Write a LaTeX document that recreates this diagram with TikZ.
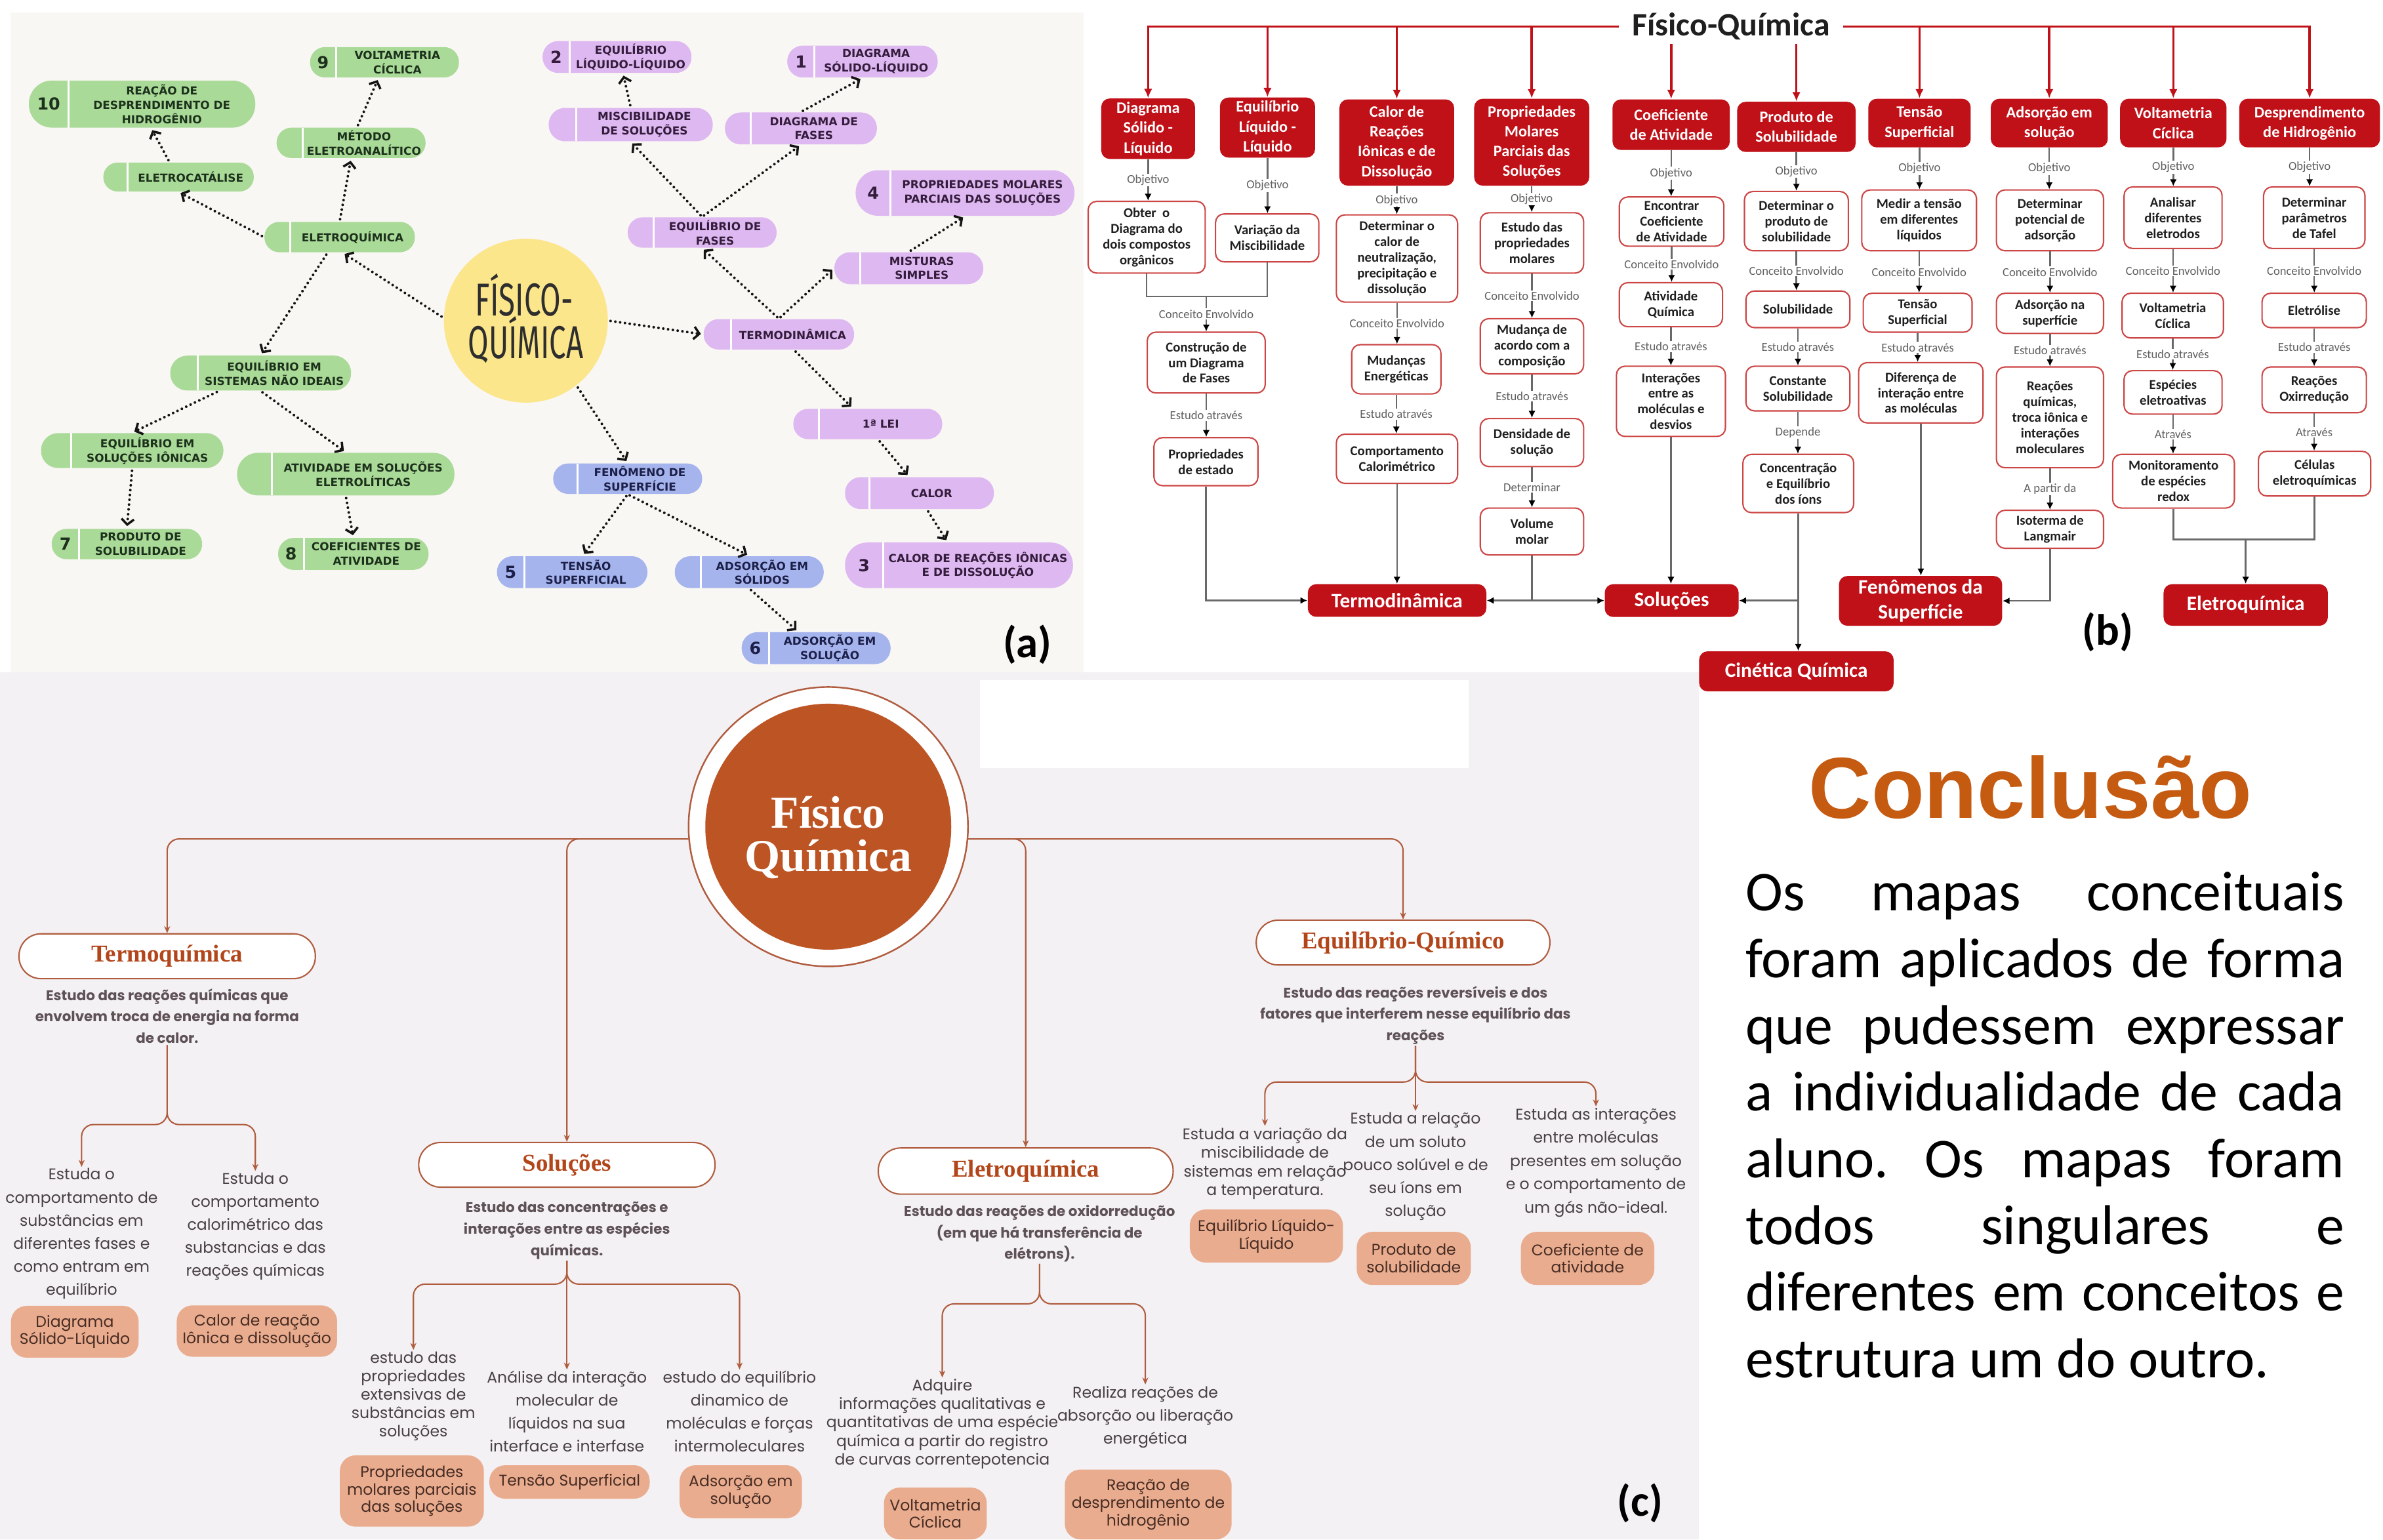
\documentclass[tikz,border=0pt]{standalone}
\usepackage{graphicx}
\usepackage{fontspec}
\setmainfont{Carlito}
\newfontfamily\capsfont{DejaVu Sans}
\newfontfamily\roundfont{Fira Sans}
\newfontfamily\popfont{Poppins}
\newfontfamily\arialfont{Liberation Sans}
\newfontfamily\decofont{Liberation Serif}
\usetikzlibrary{arrows.meta,calc,fit}
\frenchspacing

% colours
\definecolor{bgA}{RGB}{249,247,244}
\definecolor{bgC}{RGB}{243,241,244}
\definecolor{pgreen}{RGB}{170,218,152}
\definecolor{pgreentxt}{RGB}{28,48,28}
\definecolor{ppurple}{RGB}{222,184,240}
\definecolor{ppurpletxt}{RGB}{52,28,60}
\definecolor{pblue}{RGB}{166,180,238}
\definecolor{pbluetxt}{RGB}{28,32,72}
\definecolor{pyellow}{RGB}{252,230,140}
\definecolor{bred}{RGB}{192,16,24}
\definecolor{bborder}{RGB}{205,70,70}
\definecolor{bgray}{RGB}{105,105,105}
\definecolor{cbrown}{RGB}{188,84,36}
\definecolor{clinec}{RGB}{176,92,62}
\definecolor{cdark}{RGB}{178,70,26}
\definecolor{csalmon}{RGB}{234,172,142}
\definecolor{cbadgetxt}{RGB}{70,44,36}
\definecolor{ctext}{RGB}{72,64,66}
\definecolor{cdesc}{RGB}{95,82,86}
\definecolor{ctitle}{RGB}{197,90,17}

% pill of the first map: name, colour, x1, y1, x2, y2, divider x, number, text
\newcommand\pill[9]{%
  \pgfmathsetmacro\pillr{abs(#6-#4)*0.1135}%
  \fill[#2,rounded corners=\pillr mm] (#3,#4) rectangle (#5,#6);
  \draw[white,line width=0.85pt] (#7,#4) -- (#7,#6);
  \node[fit={(#3,#4) (#5,#6)},inner sep=0pt] (#1) {};
  \node[pilltext,text=#2txt] (#1t) at ({(#7+#5)/2},{(#4+#6)/2}) {#9};
  \node[pillnum,text=#2txt] (#1n) at ({(#3+#7)/2},{(#4+#6)/2}) {#8};
}
% boxes of the flow chart
\newcommand\wbox[6]{%
  \node[wboxs,fit={(#2,#3) (#4,#5)}] (#1) {};
  \node[wtext] (#1t) at (#1.center) {#6};
}
\newcommand\rbox[7]{%
  \node[rboxs,fit={(#2,#3) (#4,#5)}] (#1) {};
  \node[#6] (#1t) at (#1.center) {#7};
}
\newcommand\vlink[3]{\draw[barr] (#1.south) -- node[blabel]{#3} (#1.south |- #2.north);}
\newcommand\vlinkn[2]{\draw[barr] (#1.south) -- (#1.south |- #2.north);}
% third map
\newcommand\cpill[6]{%
  \pgfmathsetmacro\pillr{abs(#5-#3)*0.1135}%
  \node[draw=clinec,line width=0.6pt,fill=white,rounded corners=\pillr mm,fit={(#2,#3) (#4,#5)},inner sep=0pt] (#1) {};
  \node[ctitlef] (#1t) at (#1.center) {#6};
}
\newcommand\badge[6]{%
  \node[fill=csalmon,rounded corners=2.4mm,fit={(#2,#3) (#4,#5)},inner sep=0pt] (#1) {};
  \node[badgetext] (#1t) at (#1.center) {#6};
}

\begin{document}
\begin{tikzpicture}[x=0.2317mm,y=-0.2317mm,
  darr/.style={draw=black!92,line width=1.15pt,dash pattern=on 0pt off 2.1pt,line cap=round,
    shorten <=1pt,shorten >=1pt,-{Straight Barb[length=2.4pt,width=5.4pt,line width=1pt]}},
  pilltext/.style={font=\capsfont\bfseries\fontsize{4.8}{6.2}\selectfont,align=center,inner sep=0pt},
  pillnum/.style={font=\capsfont\bfseries\fontsize{7.2}{8}\selectfont,inner sep=0pt},
  wboxs/.style={draw=bborder,line width=0.6pt,fill=white,rounded corners=1.3mm,inner sep=0pt},
  wtext/.style={font=\bfseries\fontsize{5.9}{6.8}\selectfont,align=center,inner sep=0pt,text=black!88},
  rboxs/.style={fill=bred,rounded corners=1.3mm,inner sep=0pt},
  rtop/.style={font=\bfseries\fontsize{6.9}{8.6}\selectfont,align=center,inner sep=0pt,text=white},
  rbot/.style={font=\bfseries\fontsize{8.9}{11}\selectfont,align=center,inner sep=0pt,text=white},
  redarr/.style={draw=bred,line width=1pt,-{Latex[length=4pt,width=3.6pt]}},
  bline/.style={draw=bgray,line width=0.7pt},
  barr/.style={bline,-{Latex[length=3pt,width=3pt,color=black]}},
  blabel/.style={font=\fontsize{5.3}{6}\selectfont,text=black!62,fill=white,inner sep=0.5pt},
  plabel/.style={font=\bfseries\fontsize{19}{20}\selectfont,inner sep=0pt},
  cline/.style={draw=clinec,line width=0.6pt},
  carr/.style={cline,rounded corners=1.8mm,-{Stealth[length=3pt,width=2.6pt]}},
  cdescs/.style={font=\popfont\bfseries\fontsize{6.1}{9.3}\selectfont,text=cdesc,align=center,inner sep=0.5pt},
  cbr/.style={font=\popfont\fontsize{6.7}{#1}\selectfont,text=ctext,align=center,inner sep=0.5pt},
  badgetext/.style={font=\popfont\fontsize{6.7}{7.6}\selectfont,text=cbadgetxt,align=center,inner sep=0pt},
  ctitlef/.style={font=\decofont\bfseries\fontsize{10.5}{12}\selectfont,text=cdark,inner sep=0pt},
  cline8/.style={font=\fontsize{24.4}{28.9}\selectfont,anchor=base west,inner sep=0pt}
]
\useasboundingbox (0,0) rectangle (1568,1013);
\fill[white] (0,0) rectangle (1568,1013);

% panel backgrounds
\fill[bgA] (7,8) rectangle (712.9,442.4);
\fill[bgC] (0,442.4) rectangle (1117.9,1013);
\fill[white] (644.7,447.7) rectangle (966.5,505.6);

% ================= (a) mind map =================
\node[circle,fill=pyellow,minimum size=25mm,inner sep=0pt] (circa) at (346,211) {};
\node[anchor=base,font=\roundfont\fontsize{20}{20}\selectfont,text=black!82,inner sep=0pt] (ca1) at (345,208) {\scalebox{0.65}[1]{FÍSICO-}};
\node[anchor=base,font=\roundfont\fontsize{20}{20}\selectfont,text=black!82,inner sep=0pt] (ca2) at (346,236) {\scalebox{0.65}[1]{QUÍMICA}};

\pill{g10}{pgreen}{19}{53}{168}{84}{45}{10}{REAÇÃO DE\\DESPRENDIMENTO DE\\HIDROGÊNIO}
\pill{g9}{pgreen}{204}{31}{302}{51}{221}{9}{VOLTAMETRIA\\CÍCLICA}
\pill{gmet}{pgreen}{182}{84}{280}{104}{199}{}{MÉTODO\\ELETROANALÍTICO}
\pill{gcat}{pgreen}{68}{107}{167}{126}{84}{}{ELETROCATÁLISE}
\pill{geq}{pgreen}{174}{146}{273}{166}{191}{}{ELETROQUÍMICA}
\pill{gnid}{pgreen}{112}{234}{231}{257}{130}{}{EQUILÍBRIO EM\\SISTEMAS NÃO IDEAIS}
\pill{gion}{pgreen}{27}{285}{147}{308}{47}{}{EQUILÍBRIO EM\\SOLUÇÕES IÔNICAS}
\pill{gativ}{pgreen}{156}{298}{299}{326}{179}{}{ATIVIDADE EM SOLUÇÕES\\ELETROLÍTICAS}
\pill{g7}{pgreen}{34}{348}{133}{368}{52}{7}{PRODUTO DE\\SOLUBILIDADE}
\pill{g8}{pgreen}{183}{354}{282}{375}{200}{8}{COEFICIENTES DE\\ATIVIDADE}

\pill{p2}{ppurple}{357}{27}{455}{48}{375}{2}{EQUILÍBRIO\\LÍQUIDO-LÍQUIDO}
\pill{p1}{ppurple}{518}{30}{617}{51}{536}{1}{DIAGRAMA\\SÓLIDO-LÍQUIDO}
\pill{pmis}{ppurple}{361}{71}{469}{93}{379}{}{MISCIBILIDADE\\DE SOLUÇÕES}
\pill{pdf}{ppurple}{477}{74}{577}{95}{494}{}{DIAGRAMA DE\\FASES}
\pill{p4}{ppurple}{563}{112}{707}{142}{586}{4}{PROPRIEDADES MOLARES\\PARCIAIS DAS SOLUÇÕES}
\pill{peqf}{ppurple}{413}{143}{511}{163}{430}{}{EQUILÍBRIO DE\\FASES}
\pill{pmist}{ppurple}{549}{166}{647}{187}{566}{}{MISTURAS\\SIMPLES}
\pill{pterm}{ppurple}{463}{210}{562}{230}{481}{}{TERMODINÂMICA}
\pill{plei}{ppurple}{522}{269}{620}{289}{539}{}{1ª LEI}
\pill{pcal}{ppurple}{556}{314}{654}{335}{572}{}{CALOR}
\pill{p3}{ppurple}{556}{357}{706}{387}{581}{3}{CALOR DE REAÇÕES IÔNICAS\\E DE DISSOLUÇÃO}

\pill{bfen}{pblue}{364}{305}{462}{325}{380}{}{FENÔMENO DE\\SUPERFÍCIE}
\pill{b5}{pblue}{327}{366}{426}{387}{345}{5}{TENSÃO\\SUPERFICIAL}
\pill{bads}{pblue}{444}{366}{542}{387}{461}{}{ADSORÇÃO EM\\SÓLIDOS}
\pill{b6}{pblue}{488}{416}{586}{437}{506}{6}{ADSORÇÃO EM\\SOLUÇÃO}

\draw[darr] (circa.178) -- ($(geq.south west)!0.52!(geq.south east)$);
\draw[darr] (geq.west) -- (gcat.south);
\draw[darr] (geq.north) -- (gmet.south);
\draw[darr] ($(gmet.north west)!0.54!(gmet.north east)$) -- ($(g9.south west)!0.46!(g9.south east)$);
\draw[darr] ($(gcat.north west)!0.44!(gcat.north east)$) -- ($(g10.south west)!0.54!(g10.south east)$);
\draw[darr] ($(geq.south west)!0.42!(geq.south east)$) -- (gnid.north);
\draw[darr] ($(gnid.south west)!0.27!(gnid.south east)$) -- (gion.north);
\draw[darr] (gnid.south) -- (gativ.north);
\draw[darr] (gion.south) -- (g7.north);
\draw[darr] (gativ.south) -- (g8.north);

\draw[darr] (circa.east) -- (pterm.west);
\draw[darr] (pterm.north) -- (peqf.south);
\draw[darr] (pterm.north) -- (pmist.west);
\draw[darr] (peqf.north) -- (pmis.south);
\draw[darr] (peqf.north) -- (pdf.south);
\draw[darr] (pmis.north) -- ($(p2.south west)!0.54!(p2.south east)$);
\draw[darr] (pdf.north) -- (p1.south);
\draw[darr] (pmist.north) -- (p4.south);
\draw[darr] ($(pterm.south west)!0.6!(pterm.south east)$) -- ($(plei.north west)!0.4!(plei.north east)$);
\draw[darr] ($(plei.south west)!0.57!(plei.south east)$) -- ($(pcal.north west)!0.43!(pcal.north east)$);
\draw[darr] ($(pcal.south west)!0.55!(pcal.south east)$) -- ($(p3.north west)!0.45!(p3.north east)$);
\draw[darr] (circa.-52) -- (bfen.north);
\draw[darr] (bfen.south) -- ($(b5.north west)!0.57!(b5.north east)$);
\draw[darr] (bfen.south) -- (bads.north);
\draw[darr] (bads.south) -- ($(b6.north west)!0.38!(b6.north east)$);

\node[plabel] (labA) at (676,424) {(a)};

% ================= (b) flow chart =================
\node[font=\bfseries\fontsize{14.2}{16}\selectfont,inner xsep=2mm,inner ysep=0.5mm,text=black!88] (ttl) at (1139,17.5) {Físico-Química};

\rbox{rt1}{724.6}{64.8}{786.3}{104.6}{rtop}{Diagrama\\Sólido -\\Líquido}
\rbox{rt2}{802.7}{64.2}{865.3}{103.7}{rtop}{Equilíbrio\\Líquido -\\Líquido}
\rbox{rt3}{881.3}{65.4}{956.8}{122.2}{rtop}{Calor de\\Reações\\Iônicas e de\\Dissolução}
\rbox{rt4}{970}{65}{1045.7}{122.2}{rtop}{Propriedades\\Molares\\Parciais das\\Soluções}
\rbox{rt5}{1061}{65.4}{1138.2}{98.7}{rtop}{Coeficiente\\de Atividade}
\rbox{rt6}{1143}{67}{1221}{100}{rtop}{Produto de\\Solubilidade}
\rbox{rt7}{1229.3}{65}{1296.7}{97}{rtop}{Tensão\\Superficial}
\rbox{rt8}{1309.9}{65}{1386.9}{97}{rtop}{Adsorção em\\solução}
\rbox{rt9}{1395}{65}{1465}{97}{rtop}{Voltametria\\Cíclica}
\rbox{rt10}{1473.4}{65}{1566}{97}{rtop}{Desprendimento\\de Hidrogênio}

\foreach \n in {rt1,rt2,rt3,rt4} \draw[redarr] (ttl.west) -| (\n.north);
\foreach \n in {rt7,rt8,rt9,rt10} \draw[redarr] (ttl.east) -| (\n.north);
\foreach \n in {rt5,rt6} \draw[redarr] (\n.north |- ttl.south) -- (\n.north);

\wbox{w1a}{716}{132.5}{793}{179.7}{Obter~ o\\Diagrama do\\dois compostos\\orgânicos}
\wbox{w2a}{799.8}{140.8}{867.8}{172.3}{Variação da\\Miscibilidade}
\wbox{w12b}{754.9}{218.6}{832.5}{258.6}{Construção de\\um Diagrama\\de Fases}
\wbox{w12c}{759.3}{288}{827.7}{319.6}{Propriedades\\de estado}
\wbox{w3a}{879.3}{141.4}{959.1}{198.8}{Determinar o\\calor de\\neutralização,\\precipitação e\\dissolução}
\wbox{w3b}{889.4}{226.8}{948.1}{259.2}{Mudanças\\Energéticas}
\wbox{w3c}{879.3}{285.7}{959.1}{318.1}{Comportamento\\Calorimétrico}
\wbox{w4a}{974}{140}{1042}{179.7}{Estudo das\\propriedades\\molares}
\wbox{w4b}{974}{209.7}{1042}{246}{Mudança de\\acordo com a\\composição}
\wbox{w4c}{974}{275.4}{1042}{307}{Densidade de\\solução}
\wbox{w4d}{974}{334.3}{1042}{365.2}{Volume\\molar}
\wbox{w5a}{1065.5}{129.6}{1134.3}{162}{Encontrar\\Coeficiente\\de Atividade}
\wbox{w5b}{1065.5}{186}{1133.4}{215}{Atividade\\Química}
\wbox{w5c}{1063.6}{241}{1135.3}{287.2}{Interações\\entre as\\moléculas e\\desvios}
\wbox{w6a}{1147.8}{126}{1216.2}{165}{Determinar o\\produto de\\solubilidade}
\wbox{w6b}{1148.8}{191.5}{1217.2}{215.6}{Solubilidade}
\wbox{w6c}{1148.8}{241}{1217.2}{270.4}{Constante\\Solubilidade}
\wbox{w6d}{1146.8}{299}{1219.7}{337.3}{Concentração\\e Equilíbrio\\dos íons}
\wbox{w7a}{1225}{125}{1300.5}{165}{Medir a tensão\\em diferentes\\líquidos}
\wbox{w7b}{1226}{193}{1297.6}{218.6}{Tensão\\Superficial}
\wbox{w7c}{1223}{238.6}{1304.8}{278.3}{Diferença de\\interação entre\\as moléculas}
\wbox{w8a}{1313.6}{125}{1384.1}{165}{Determinar\\potencial de\\adsorção}
\wbox{w8b}{1313.6}{193}{1384.1}{219.4}{Adsorção na\\superfície}
\wbox{w8c}{1313.6}{241.5}{1384.1}{307.8}{Reações\\químicas,\\troca iônica e\\interações\\moleculares}
\wbox{w8d}{1313.6}{335.8}{1384.1}{360.8}{Isoterma de\\Langmair}
\wbox{w9a}{1397.6}{123}{1462.1}{163.5}{Analisar\\diferentes\\eletrodos}
\wbox{w9b}{1396.3}{193}{1463}{222.4}{Voltametria\\Cíclica}
\wbox{w9c}{1397.6}{243.9}{1462.1}{272.5}{Espécies\\eletroativas}
\wbox{w9d}{1390.1}{299}{1470.2}{334.3}{Monitoramento\\de espécies\\redox}
\wbox{w10a}{1489.4}{123}{1556.1}{163.5}{Determinar\\parâmetros\\de Tafel}
\wbox{w10b}{1488.4}{193}{1557}{215.6}{Eletrólise}
\wbox{w10c}{1488.4}{241.5}{1557}{271.6}{Reações\\Oxirredução}
\wbox{w10d}{1486}{297}{1559.9}{326.4}{Células\\eletroquímicas}

\rbox{rterm}{860.5}{384.4}{978}{405.9}{rbot}{Termodinâmica}
\rbox{rsol}{1055.9}{384.4}{1144}{406}{rbot}{Soluções}
\rbox{rfen}{1210}{379}{1317.4}{411.8}{rbot}{Fenômenos da\\Superfície}
\rbox{rele}{1423.6}{384.4}{1531.7}{411.8}{rbot}{Eletroquímica}
\rbox{rcin}{1118}{428.6}{1246}{455}{rbot}{Cinética Química}

% column 1 and 2
\vlink{rt1}{w1a}{Objetivo}
\vlink{rt2}{w2a}{Objetivo}
\coordinate (j1) at (793.7,195);
\draw[bline] (w1a.south) |- (j1) -| (w2a.south);
\draw[barr] (j1) -- node[blabel]{Conceito Envolvido} (j1 |- w12b.north);
\vlink{w12b}{w12c}{Estudo através}
\draw[barr] (w12c.south) |- (rterm.west);
% column 3
\vlink{rt3}{w3a}{Objetivo}
\vlink{w3a}{w3b}{Conceito Envolvido}
\vlink{w3b}{w3c}{Estudo através}
\vlinkn{w3c}{rterm}
% column 4
\vlink{rt4}{w4a}{Objetivo}
\vlink{w4a}{w4b}{Conceito Envolvido}
\vlink{w4b}{w4c}{Estudo através}
\vlink{w4c}{w4d}{Determinar}
\draw[barr] (w4d.south) |- (rterm.east);
\draw[barr] (w4d.south) |- (rsol.west);
% column 5
\vlink{rt5}{w5a}{Objetivo}
\vlink{w5a}{w5b}{Conceito Envolvido}
\vlink{w5b}{w5c}{Estudo através}
\vlinkn{w5c}{rsol}
% column 6
\vlink{rt6}{w6a}{Objetivo}
\vlink{w6a}{w6b}{Conceito Envolvido}
\vlink{w6b}{w6c}{Estudo através}
\vlink{w6c}{w6d}{Depende}
\vlinkn{w6d}{rcin}
\draw[barr] (w6d.south) |- (rsol.east);
% column 7
\vlink{rt7}{w7a}{Objetivo}
\vlink{w7a}{w7b}{Conceito Envolvido}
\vlink{w7b}{w7c}{Estudo através}
\vlinkn{w7c}{rfen}
% column 8
\vlink{rt8}{w8a}{Objetivo}
\vlink{w8a}{w8b}{Conceito Envolvido}
\vlink{w8b}{w8c}{Estudo através}
\vlink{w8c}{w8d}{A partir da}
\draw[barr] (w8d.south) |- (rfen.east);
% column 9 and 10
\vlink{rt9}{w9a}{Objetivo}
\vlink{w9a}{w9b}{Conceito Envolvido}
\vlink{w9b}{w9c}{Estudo através}
\vlink{w9c}{w9d}{Através}
\vlink{rt10}{w10a}{Objetivo}
\vlink{w10a}{w10b}{Conceito Envolvido}
\vlink{w10b}{w10c}{Estudo através}
\vlink{w10c}{w10d}{Através}
\coordinate (j2) at (1477.6,355);
\draw[bline] (w9d.south) |- (j2) -| (w10d.south);
\draw[barr] (j2) -- (j2 |- rele.north);

\node[plabel] (labB) at (1387,416) {(b)};

% ================= (c) concept map =================
\node[circle,draw=clinec,line width=0.7pt,fill=white,minimum size=42.6mm,inner sep=0pt] (ccirc) at (545,544) {};
\node[circle,fill=cbrown,minimum size=37.5mm,inner sep=0pt] (ccore) at (ccirc.center) {};
\node[anchor=base,font=\decofont\bfseries\fontsize{19.8}{20}\selectfont,text=white,inner sep=0pt] (cc1) at (545,544.7) {Físico};
\node[anchor=base,font=\decofont\bfseries\fontsize{19.8}{20}\selectfont,text=white,inner sep=0pt] (cc2) at (545,573.3) {Química};

\cpill{cterm}{12.5}{614.5}{207.5}{644}{Termoquímica}
\cpill{csol}{275.5}{751.8}{470.5}{781.2}{Soluções}
\cpill{celet}{577.9}{755.4}{771.9}{785.8}{Eletroquímica}
\cpill{cequi}{826.6}{605.5}{1019.8}{635}{Equilíbrio-Químico}

\draw[carr] (ccirc.185) -| (cterm.north);
\draw[carr] (ccirc.185) -| (csol.north);
\draw[carr] (ccirc.355) -| (celet.north);
\draw[carr] (ccirc.355) -| (cequi.north);

\node[cdescs] (dterm) at (110,668.6) {Estudo das reações químicas que\\envolvem troca de energia na forma\\de calor.};
\node[cdescs] (dsol) at (373,809.7) {Estudo das concentrações e\\interações entre as espécies\\químicas.};
\node[cdescs] (delet) at (684,811.8) {Estudo das reações de oxidorredução\\(em que há transferência de\\elétrons).};
\node[cdescs] (dequi) at (931.4,668) {Estudo das reações reversíveis e dos\\fatores que interferem nesse equilíbrio das\\reações};

\node[cbr=10] (tl) at (53.7,811.9) {Estuda o\\comportamento de\\substâncias em\\diferentes fases e\\como entram em\\equilíbrio};
\node[cbr=10] (tr) at (168,807) {Estuda o\\comportamento\\calorimétrico das\\substancias e das\\reações químicas};
\node[cbr=8] (sl) at (272,918.7) {estudo das\\propriedades\\extensivas de\\substâncias em\\soluções};
\node[cbr=9.9] (sm) at (373,928.8) {Análise da interação\\molecular de\\líquidos na sua\\interface e interfase};
\node[cbr=9.9] (sr) at (486.6,928.8) {estudo do equilíbrio\\dinamico de\\moléculas e forças\\intermoleculares};
\node[cbr=8] (el) at (620,937) {Adquire\\informações qualitativas e\\quantitativas de uma espécie\\química a partir do registro\\de curvas correntepotencia};
\node[cbr=10] (er) at (753.6,932.5) {Realiza reações de\\absorção ou liberação\\energética};
\node[cbr=8.1] (ql) at (832.3,765.6) {Estuda a variação da\\miscibilidade de\\sistemas em relação\\a temperatura.};
\node[cbr=10] (qm) at (931.4,767.6) {Estuda a relação\\de um soluto\\pouco solúvel e de\\seu íons em\\solução};
\node[cbr=10.1] (qr) at (1050.1,765) {Estuda as interações\\entre moléculas\\presentes em solução\\e o comportamento de\\um gás não-ideal.};

\coordinate (fT) at (110,740);
\draw[carr] (dterm.south) -- (fT) -| (tl.north);
\draw[carr] (dterm.south) -- (fT) -| (tr.north);
\coordinate (fS) at (373,845);
\draw[carr] (dsol.south) -- (fS) -| (sl.north);
\draw[carr] (dsol.south) -- (sm.north);
\draw[carr] (dsol.south) -- (fS) -| (sr.north);
\coordinate (fE) at (684,858);
\draw[carr] (delet.south) -- (fE) -| (el.north);
\draw[carr] (delet.south) -- (fE) -| (er.north);
\coordinate (fQ) at (931.4,712);
\draw[carr] (dequi.south) -- (fQ) -| (ql.north);
\draw[carr] (dequi.south) -- (qm.north);
\draw[carr] (dequi.south) -- (fQ) -| (qr.north);

\badge{bg1}{7.2}{859.3}{91.2}{893.4}{Diagrama\\Sólido-Líquido}
\badge{bg2}{116.3}{859}{221.8}{892.8}{Calor de reação\\Iônica e dissolução}
\badge{bg3}{223.6}{957.7}{318.4}{1004.6}{Propriedades\\molares parciais\\das soluções}
\badge{bg4}{322}{964.2}{427.5}{986.2}{Tensão Superficial}
\badge{bg5}{447.2}{964.2}{527.7}{999.1}{Adsorção em\\solução}
\badge{bg6}{581.6}{978.9}{649.3}{1013}{Voltametria\\Cíclica}
\badge{bg7}{700.6}{967}{810.4}{1013}{Reação de\\desprendimento de\\hidrogênio}
\badge{bg8}{782.9}{795.9}{883.6}{830.8}{Equilíbrio Líquido-\\Líquido}
\badge{bg9}{892.7}{810.6}{967.8}{845.6}{Produto de\\solubilidade}
\badge{bg10}{1000.7}{810.6}{1088.5}{845.6}{Coeficiente de\\atividade}

\node[plabel] (labC) at (1079,989) {(c)};

% ================= conclusion =================
\node[anchor=base,font=\arialfont\bfseries\fontsize{37.6}{40}\selectfont,text=ctitle,inner sep=0pt] (concl) at (1336,538.5) {Conclusão};
\node[cline8] (cl1) at (1148.3,599.3) {\makebox[91.3mm][s]{Os mapas conceituais}};
\node[cline8] (cl2) at (1148.3,643.2) {\makebox[91.3mm][s]{foram aplicados de forma}};
\node[cline8] (cl3) at (1148.3,687.1) {\makebox[91.3mm][s]{que pudessem expressar}};
\node[cline8] (cl4) at (1148.3,731.0) {\makebox[91.3mm][s]{a individualidade de cada}};
\node[cline8] (cl5) at (1148.3,774.9) {\makebox[91.3mm][s]{aluno. Os mapas foram}};
\node[cline8] (cl6) at (1148.3,818.8) {\makebox[91.3mm][s]{todos singulares e}};
\node[cline8] (cl7) at (1148.3,862.7) {\makebox[91.3mm][s]{diferentes em conceitos e}};
\node[cline8] (cl8) at (1148.3,906.6) {estrutura um do outro.};
\end{tikzpicture}
\end{document}
